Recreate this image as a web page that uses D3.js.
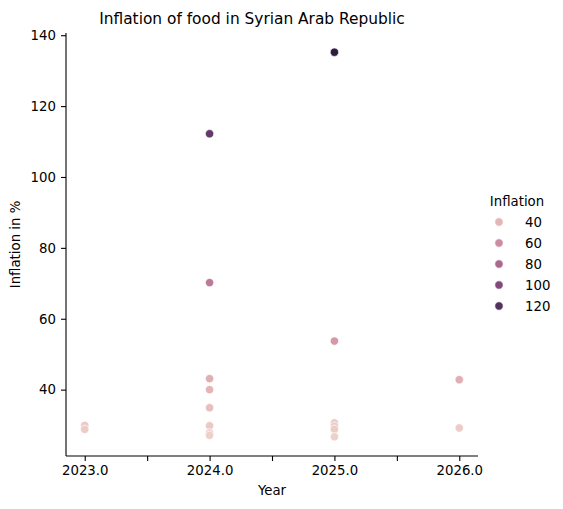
<!DOCTYPE html>
<html>
<head>
<meta charset="utf-8">
<script src="https://cdn.jsdelivr.net/npm/d3@7"></script>
<style>
  body { margin: 0; background: #fff; }
  text { font-family: "DejaVu Sans", sans-serif; fill: #000; }
</style>
</head>
<body>
<svg id="chart" width="563" height="509"></svg>
<script>
// Data.
const years = [2023, 2023,
    2024, 2024, 2024, 2024, 2024, 2024, 2024, 2024,
    2025, 2025, 2025, 2025, 2025, 2025,
    2026, 2026];
const inflation = [29.9, 28.8,
    112.2, 70.2, 43.1, 40.0, 34.9, 29.8, 27.8, 27.1,
    135.2, 53.7, 30.6, 29.7, 28.8, 26.7,
    42.8, 29.2];
const yTicks = [40, 60, 80, 100, 120, 140];
const xTicks = [2023, 2023.5, 2024, 2024.5, 2025, 2025.5, 2026];
const legendValues = [40, 60, 80, 100, 120];

let svg = d3.select("#chart");

let plot = { left: 66, right: 478, top: 33, bottom: 456 };

// seaborn's default cubehelix palette (light -> dark).
function cubehelix(x) {
    let a = 0.8 * x * (1 - x) / 2;
    let phi = 2 * Math.PI * (0.4 * x);
    let c = (p0, p1) => Math.max(0, Math.min(1, x + a * (p0 * Math.cos(phi) + p1 * Math.sin(phi))));
    return d3.rgb(255 * c(-0.14861, 1.78277), 255 * c(-0.29227, -0.90649), 255 * c(1.97294, 0)).formatHex();
}

let points = years.map((y, i) => ({ year: y, value: inflation[i] }));
let vMin = d3.min(inflation), vMax = d3.max(inflation);
let pad = (vMax - vMin) * 0.05;

let xScale = d3.scaleLinear()
    .domain([2023 - 0.15, 2026 + 0.15])
    .range([plot.left, plot.right]);
let yScale = d3.scaleLinear()
    .domain([vMin - pad, vMax + pad])
    .range([plot.bottom, plot.top]);
let hueScale = d3.scaleLinear().domain([vMin, vMax]).range([0.85, 0.15]);
let color = v => cubehelix(hueScale(v));

// Axes.
let xAxis = svg.append("g")
    .attr("transform", "translate(0," + plot.bottom + ")")
    .call(d3.axisBottom(xScale).tickValues(xTicks).tickSize(5).tickPadding(5)
        .tickFormat(d => Number.isInteger(d) ? d.toFixed(1) : ""));
let yAxis = svg.append("g")
    .attr("transform", "translate(" + plot.left + ",0)")
    .call(d3.axisLeft(yScale).tickValues(yTicks).tickSize(5).tickPadding(5));

[xAxis, yAxis].forEach(ax => {
    ax.selectAll("text").style("font-size", "13.3px").attr("font-family", null);
    ax.selectAll("path, line").attr("stroke", "#000").attr("stroke-width", 1.1);
    ax.attr("font-family", null).attr("font-size", null);
});
xAxis.select(".domain").attr("d", "M" + plot.left + ",0H" + plot.right);
yAxis.select(".domain").attr("d", "M0," + plot.bottom + "V" + plot.top);

// Scatter points.
svg.append("g").selectAll("circle")
    .data(points)
    .join("circle")
    .attr("cx", d => xScale(d.year))
    .attr("cy", d => yScale(d.value))
    .attr("r", 4.2)
    .attr("fill", d => color(d.value))
    .attr("stroke", "#fff")
    .attr("stroke-width", 0.7);

// Titles.
svg.append("text")
    .attr("x", 252)
    .attr("y", 24)
    .attr("text-anchor", "middle")
    .style("font-size", "15.4px")
    .text("Inflation of food in Syrian Arab Republic");
svg.append("text")
    .attr("x", (plot.left + plot.right) / 2)
    .attr("y", 495)
    .attr("text-anchor", "middle")
    .style("font-size", "13.3px")
    .text("Year");
svg.append("text")
    .attr("transform", "translate(20," + (plot.top + plot.bottom) / 2 + ") rotate(-90)")
    .attr("text-anchor", "middle")
    .style("font-size", "13.3px")
    .text("Inflation in %");

// Legend.
let legend = svg.append("g").attr("transform", "translate(470,0)");
legend.append("text")
    .attr("x", 47)
    .attr("y", 206)
    .attr("text-anchor", "middle")
    .style("font-size", "13.3px")
    .text("Inflation");
legendValues.forEach((v, i) => {
    let y = 222 + i * 21;
    legend.append("circle")
        .attr("cx", 29)
        .attr("cy", y)
        .attr("r", 4.2)
        .attr("fill", color(v))
        .attr("stroke", "#fff")
        .attr("stroke-width", 0.7);
    legend.append("text")
        .attr("x", 55)
        .attr("y", y + 4.5)
        .style("font-size", "13.3px")
        .text(v);
});
</script>
</body>
</html>
